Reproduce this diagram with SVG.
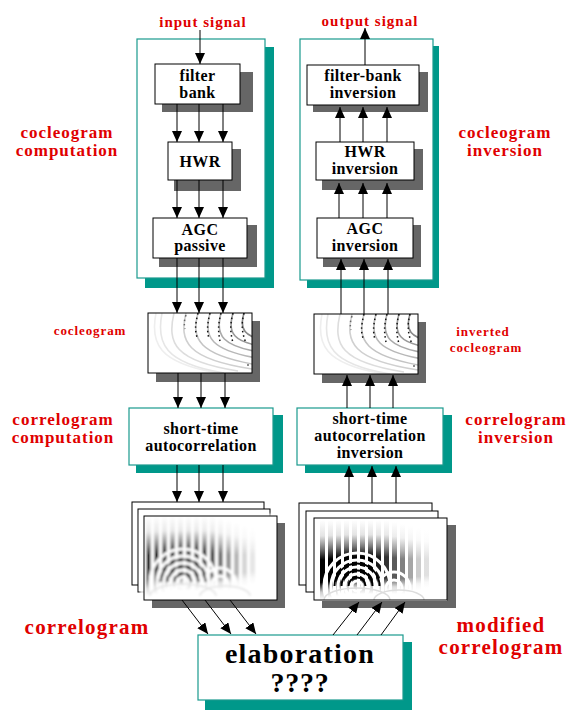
<svg xmlns="http://www.w3.org/2000/svg" width="575" height="710" viewBox="0 0 575 710">
<style>
text{font-family:"Liberation Serif","Times New Roman",serif;font-weight:bold;text-anchor:middle}
.lbl{font-size:16px;letter-spacing:0.4px;fill:#000}
.red{fill:#e00000;font-size:17px;letter-spacing:1px}
.reds{fill:#e00000;font-size:13px;letter-spacing:0.9px}
.redb{fill:#e00000;font-size:21px;letter-spacing:1.2px}
.box{fill:#fff;stroke:#000;stroke-width:1}
.tbox{fill:#fff;stroke:#1a9a8e;stroke-width:1.2}
.sh{fill:#666}
.tsh{fill:#00988a}
.con line{stroke:#000;stroke-width:1;marker-end:url(#ah)}
</style>
<defs>
<marker id="ah" viewBox="0 0 11 10" refX="11" refY="5" markerWidth="11" markerHeight="10" markerUnits="userSpaceOnUse" orient="auto" preserveAspectRatio="none"><path d="M0,0 L11,5 L0,10 z" fill="#000"/></marker>
<clipPath id="cc"><rect x="0" y="0" width="104" height="60"/></clipPath>
<clipPath id="rc"><rect x="0" y="0" width="133" height="83"/></clipPath>
<linearGradient id="sg" x1="0" y1="0" x2="0" y2="1">
<stop offset="0" stop-color="#fff"/><stop offset="0.2" stop-color="#e4e4e4"/><stop offset="0.36" stop-color="#777"/><stop offset="0.5" stop-color="#000"/><stop offset="0.78" stop-color="#000"/><stop offset="0.9" stop-color="#ccc"/><stop offset="1" stop-color="#fff"/>
</linearGradient>
<filter id="fz" x="-5%" y="-5%" width="110%" height="110%"><feGaussianBlur stdDeviation="1.1"/></filter>
<g id="coc">
<g clip-path="url(#cc)" fill="none">
<g stroke-width="1.6">
<path d="M8,0 C2,30 10,50 70,60" stroke="#eee"/>
<path d="M14,0 C8,30 16,50 76,60" stroke="#e6e6e6"/>
<path d="M26,0 C19,30 26,48 90,58" stroke="#ddd"/>
<path d="M38,0 C31,28 38,46 104,56" stroke="#d0d0d0"/>
<path d="M50,0 C43,26 50,42 110,52" stroke="#c4c4c4"/>
<path d="M62,0 C55,24 62,38 115,46" stroke="#b8b8b8"/>
<path d="M73,0 C67,22 73,34 118,40" stroke="#aaa"/>
<path d="M85,0 C79,20 85,30 120,34" stroke="#999"/>
<path d="M96,0 C91,16 96,24 120,28" stroke="#888"/>
</g>
<g stroke="#111" stroke-width="1.5" stroke-dasharray="1.5 3">
<path d="M50,0 C47,12 47,18 49,24"/>
<path d="M62,0 C59,12 59,18 61,26"/>
<path d="M73,0 C70,12 70,18 72,28"/>
<path d="M85,0 C82,12 82,18 85,30"/>
<path d="M96,0 C93,12 94,20 98,30"/>
<path d="M38,2 C36,8 36,12 37,16" stroke="#666"/>
</g>
<circle cx="100" cy="52" r="0.8" fill="#000"/>
</g>
</g>
<g id="cor">
<g clip-path="url(#rc)">
<rect width="133" height="83" fill="#fff"/>
<g fill="url(#sg)">
<rect x="6" y="2" width="5" height="80"/>
<rect x="14" y="2" width="5" height="78"/>
<rect x="22" y="2" width="5" height="76"/>
<rect x="30" y="2" width="5" height="74"/>
<rect x="38" y="2" width="5" height="74"/>
<rect x="46" y="2" width="5" height="74"/>
<rect x="54" y="2" width="5" height="74"/>
<rect x="62" y="2" width="5" height="74" opacity="0.9"/>
<rect x="70" y="2" width="5" height="74" opacity="0.8"/>
<rect x="78" y="4" width="5" height="72" opacity="0.65"/>
<rect x="86" y="6" width="5" height="70" opacity="0.5"/>
<rect x="94" y="8" width="5" height="66" opacity="0.35"/>
<rect x="102" y="10" width="5" height="62" opacity="0.2"/>
<rect x="110" y="12" width="5" height="58" opacity="0.12"/>
</g>
<g fill="none" stroke="#fff" stroke-width="3">
<circle cx="43" cy="68" r="5"/>
<circle cx="43" cy="68" r="12"/>
<circle cx="43" cy="68" r="19"/>
<circle cx="43" cy="68" r="26"/>
<circle cx="43" cy="68" r="33"/>
<circle cx="80" cy="70" r="8"/>
<circle cx="80" cy="70" r="16"/>
</g>
<g fill="none" stroke="#000" stroke-width="2">
<path d="M34.5,68 A8.5,8.5 0 0 1 51.5,68"/>
<path d="M27.5,68 A15.5,15.5 0 0 1 58.5,68"/>
<path d="M20.5,68 A22.5,22.5 0 0 1 65.5,68"/>
</g>
<g fill="none" stroke="#ddd" stroke-width="1.5">
<path d="M10,82 A33,12 0 0 1 76,82"/>
<path d="M60,82 A25,10 0 0 1 110,82"/>
</g>
</g>
</g>
</defs>

<g id="panel-left">
<rect x="145" y="47" width="129" height="241" class="tsh"/>
<rect x="137" y="39" width="128" height="239" class="tbox"/>
</g>
<g id="panel-right">
<rect x="307" y="46" width="132" height="242" class="tsh"/>
<rect x="300" y="39" width="133" height="241" class="tbox"/>
</g>

<g id="filter-bank">
<rect x="162" y="72" width="91" height="40" class="sh"/>
<rect x="155" y="64" width="85" height="40" class="box"/>
<text class="lbl" x="197.5" y="81">filter</text>
<text class="lbl" x="197.5" y="98">bank</text>
</g>
<g id="hwr">
<rect x="174" y="149" width="67" height="42" class="sh"/>
<rect x="168" y="142" width="64" height="38" class="box"/>
<text class="lbl" x="200" y="167">HWR</text>
</g>
<g id="agc-passive">
<rect x="159" y="225" width="98" height="42" class="sh"/>
<rect x="153" y="218" width="94" height="40" class="box"/>
<text class="lbl" x="200" y="235">AGC</text>
<text class="lbl" x="200" y="251">passive</text>
</g>

<g id="filter-bank-inversion">
<rect x="313" y="72" width="115" height="40" class="sh"/>
<rect x="307" y="65" width="112" height="40" class="box"/>
<text class="lbl" x="363" y="81">filter-bank</text>
<text class="lbl" x="363" y="98">inversion</text>
</g>
<g id="hwr-inversion">
<rect x="322" y="149" width="101" height="41" class="sh"/>
<rect x="316" y="142" width="98" height="38" class="box"/>
<text class="lbl" x="365" y="157">HWR</text>
<text class="lbl" x="365" y="174">inversion</text>
</g>
<g id="agc-inversion">
<rect x="323" y="225" width="98" height="42" class="sh"/>
<rect x="317" y="218" width="96" height="40" class="box"/>
<text class="lbl" x="365" y="234">AGC</text>
<text class="lbl" x="365" y="251">inversion</text>
</g>

<g id="cocleogram-left">
<rect x="156" y="321" width="104" height="61" class="sh"/>
<rect x="148" y="313" width="104" height="60" fill="#fff"/>
<use href="#coc" x="148" y="313"/>
<rect x="148" y="313" width="104" height="60" fill="none" stroke="#000"/>
</g>
<g id="cocleogram-right">
<rect x="322" y="322" width="104" height="61" class="sh"/>
<rect x="314" y="314" width="104" height="60" fill="#fff"/>
<use href="#coc" x="314" y="314"/>
<rect x="314" y="314" width="104" height="60" fill="none" stroke="#000"/>
</g>

<g id="autocorrelation">
<rect x="136" y="415" width="147" height="58" class="tsh"/>
<rect x="129" y="408" width="144" height="57" class="tbox"/>
<text class="lbl" x="201" y="434">short-time</text>
<text class="lbl" x="201" y="451">autocorrelation</text>
</g>
<g id="autocorrelation-inversion">
<rect x="305" y="415" width="147" height="58" class="tsh"/>
<rect x="297" y="408" width="146" height="57" class="tbox"/>
<text class="lbl" x="370" y="424">short-time</text>
<text class="lbl" x="370" y="441">autocorrelation</text>
<text class="lbl" x="370" y="458">inversion</text>
</g>

<g id="correlogram-left">
<rect x="152" y="523" width="133" height="85" class="sh"/>
<rect x="132" y="502" width="132" height="83" class="box"/>
<rect x="138" y="509" width="132" height="83" class="box"/>
<rect x="144" y="516" width="133" height="84" fill="#fff"/>
<g transform="translate(144,516)" opacity="0.8" filter="url(#fz)"><use href="#cor" transform="translate(-4,-2)"/></g>
<rect x="144" y="516" width="133" height="84" fill="none" stroke="#000"/>
</g>
<g id="correlogram-right">
<rect x="322" y="525" width="134" height="83" class="sh"/>
<rect x="299" y="503" width="133" height="82" class="box"/>
<rect x="306" y="511" width="132" height="81" class="box"/>
<rect x="314" y="518" width="133" height="82" fill="#fff"/>
<use href="#cor" x="314" y="518"/>
<rect x="314" y="518" width="133" height="82" fill="none" stroke="#000"/>
</g>

<g id="elaboration">
<rect x="205" y="642" width="207" height="68" class="tsh"/>
<rect x="198" y="635" width="205" height="65" class="tbox"/>
<text x="300" y="663" font-size="28" letter-spacing="1.2">elaboration</text>
<text x="300" y="692" font-size="28" letter-spacing="0.8">????</text>
</g>

<g id="labels">
<text class="red" x="203" y="27" style="font-size:15px;letter-spacing:1px">input signal</text>
<text class="red" x="370" y="26" style="font-size:15px;letter-spacing:1px">output signal</text>
<text class="red" x="67" y="138">cocleogram</text>
<text class="red" x="67" y="156">computation</text>
<text class="red" x="505" y="138">cocleogram</text>
<text class="red" x="505" y="156">inversion</text>
<text class="reds" x="90" y="335">cocleogram</text>
<text class="reds" x="483" y="336">inverted</text>
<text class="reds" x="486" y="352">cocleogram</text>
<text class="red" x="63" y="425">correlogram</text>
<text class="red" x="63" y="443">computation</text>
<text class="red" x="516" y="425">correlogram</text>
<text class="red" x="516" y="443">inversion</text>
<text class="redb" x="87" y="634">correlogram</text>
<text class="redb" x="501" y="632">modified</text>
<text class="redb" x="501" y="654">correlogram</text>
</g>

<g id="connectors" class="con">
<line x1="200" y1="30" x2="200" y2="64"/>
<line x1="177" y1="104" x2="177" y2="142"/>
<line x1="199" y1="104" x2="199" y2="142"/>
<line x1="223" y1="104" x2="223" y2="142"/>
<line x1="177" y1="180" x2="177" y2="218"/>
<line x1="199" y1="180" x2="199" y2="218"/>
<line x1="223" y1="180" x2="223" y2="218"/>
<line x1="177" y1="258" x2="177" y2="313"/>
<line x1="199" y1="258" x2="199" y2="313"/>
<line x1="223" y1="258" x2="223" y2="313"/>
<line x1="178" y1="373" x2="178" y2="408"/>
<line x1="201" y1="373" x2="201" y2="408"/>
<line x1="225" y1="373" x2="225" y2="408"/>
<line x1="177" y1="465" x2="177" y2="502"/>
<line x1="199" y1="465" x2="199" y2="502"/>
<line x1="223" y1="465" x2="223" y2="502"/>
<line x1="182" y1="600" x2="208" y2="634"/>
<line x1="205" y1="600" x2="231" y2="634"/>
<line x1="230" y1="600" x2="256" y2="634"/>
<line x1="333" y1="635" x2="359" y2="602"/>
<line x1="357" y1="635" x2="382" y2="602"/>
<line x1="381" y1="635" x2="405" y2="602"/>
<line x1="349" y1="503" x2="349" y2="466"/>
<line x1="372" y1="503" x2="372" y2="466"/>
<line x1="396" y1="503" x2="396" y2="466"/>
<line x1="347" y1="408" x2="347" y2="375"/>
<line x1="370" y1="408" x2="370" y2="375"/>
<line x1="393" y1="408" x2="393" y2="375"/>
<line x1="341" y1="314" x2="341" y2="259"/>
<line x1="364" y1="314" x2="364" y2="259"/>
<line x1="388" y1="314" x2="388" y2="259"/>
<line x1="339" y1="218" x2="339" y2="183"/>
<line x1="363" y1="218" x2="363" y2="183"/>
<line x1="387" y1="218" x2="387" y2="183"/>
<line x1="340" y1="142" x2="340" y2="107"/>
<line x1="363" y1="142" x2="363" y2="107"/>
<line x1="387" y1="142" x2="387" y2="107"/>
<line x1="365" y1="65" x2="365" y2="28"/>
</g>
</svg>
